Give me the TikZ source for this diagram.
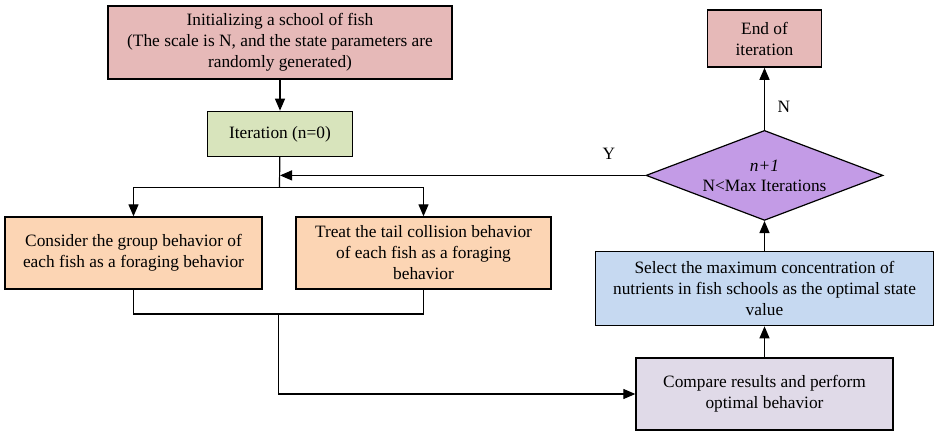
\documentclass[tikz,border=0pt]{standalone}
\usepackage{fontspec}
\setmainfont{Liberation Serif}
\usetikzlibrary{shapes.geometric, arrows.meta, positioning}
\definecolor{fishpink}{HTML}{E6B9B8}
\definecolor{fishgreen}{HTML}{D8E4BC}
\definecolor{fishorange}{HTML}{FCD5B4}
\definecolor{fishblue}{HTML}{C6D9F1}
\definecolor{fishlilac}{HTML}{E0DAE8}
\definecolor{fishviolet}{HTML}{C39BE6}

\begin{document}
\begin{tikzpicture}[
  x=0.75pt, y=-0.75pt,
  flowbox/.style={rectangle, draw=black, line width=1pt, fill=#1, align=center, inner sep=2pt, font=\fontsize{13}{15.75}\selectfont},
  decbox/.style={diamond, draw=black, line width=0.9pt, fill=fishviolet, aspect=2.6, minimum width=177.75pt, minimum height=67.5pt, inner sep=0pt, align=center, font=\fontsize{13}{15}\selectfont},
  link/.style={line width=0.9pt, -{Triangle[length=9pt,width=7.5pt]}},
  wire/.style={line width=0.9pt}
]
  \useasboundingbox (0,0) rectangle (934,431);

  % Start and first iteration
  \node[flowbox=fishpink, minimum width=258pt, minimum height=54.75pt] (init) at (280,42.5) {Initializing a school of fish\\(The scale is N, and the state parameters are\\randomly generated)};
  \node[flowbox=fishgreen, minimum width=108.75pt, minimum height=33.75pt, below=23.25pt of init] (iter) {Iteration (n=0)};

  % Foraging behaviors
  \node[flowbox=fishorange, minimum width=192.75pt, minimum height=54pt] (group) at (133.5,253) {Consider the group behavior of\\each fish as a foraging behavior};
  \node[flowbox=fishorange, minimum width=191.25pt, minimum height=54pt] (tail) at (423.5,253) {Treat the tail collision behavior\\of each fish as a foraging\\behavior};

  % Evaluation and check
  \node[flowbox=fishlilac, minimum width=192.75pt, minimum height=54pt] (cmp) at (764.5,394) {Compare results and perform\\optimal behavior};
  \node[flowbox=fishblue, minimum width=253.5pt, minimum height=55.5pt, above=23.25pt of cmp] (best) {Select the maximum concentration of\\nutrients in fish schools as the optimal state\\value};
  \node[decbox, above=22.5pt of best] (check) {\textit{n+1}\\N<Max Iterations};
  \node[flowbox=fishpink, minimum width=85.5pt, minimum height=42.75pt, above=46.5pt of check] (stop) {End of\\iteration};

  % Junction points
  \coordinate (split) at (279.5,187.5);
  \coordinate (merge) at (278.5,314);

  % Connections
  \draw[link] (init) -- (iter);
  \draw[wire] (iter) -- (split);
  \draw[link] (split) -| (group);
  \draw[link] (split) -| (tail);
  \draw[wire] (group) |- (merge) -| (tail);
  \draw[link] (merge) |- (cmp);
  \draw[link] (cmp) -- (best);
  \draw[link] (best) -- (check);
  \draw[link] (check) -- (stop)
    node[pos=0.37, right=6pt, font=\fontsize{13}{15}\selectfont] {N};
  \draw[link] (check.west) -- (check.west -| iter.south)
    node[pos=0.1, above=8pt, font=\fontsize{13}{15}\selectfont] {Y};
\end{tikzpicture}
\end{document}
